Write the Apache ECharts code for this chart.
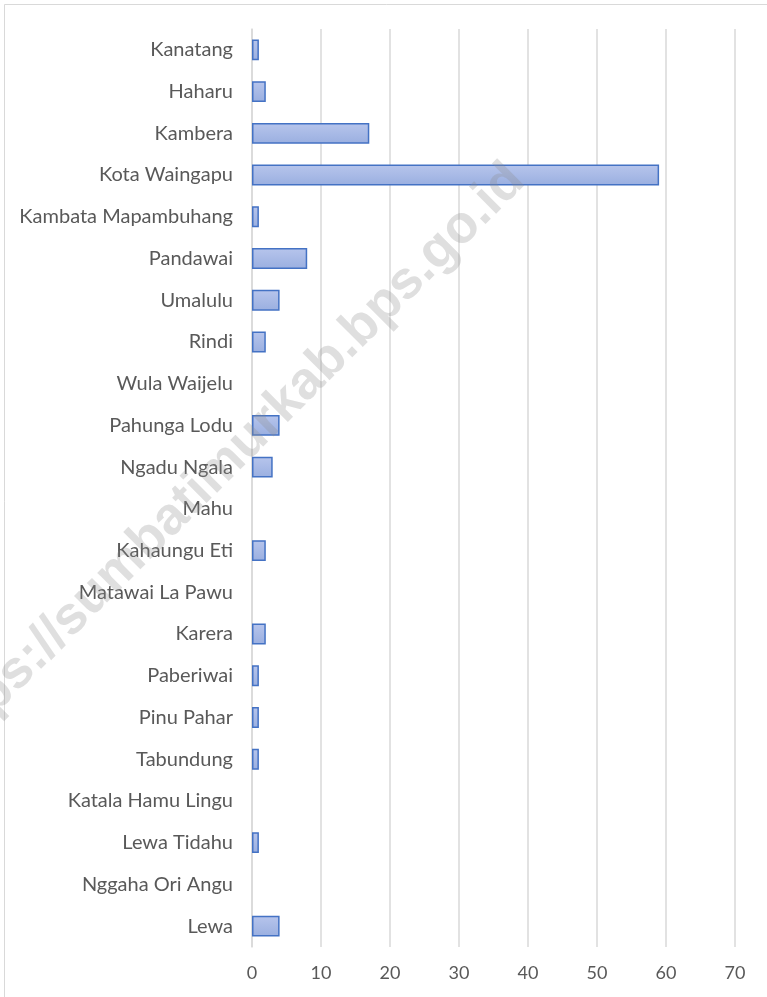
<!DOCTYPE html>
<html>
<head>
<meta charset="utf-8">
<script src="https://cdn.jsdelivr.net/npm/echarts@6/dist/echarts.min.js"></script>
<style>
  html, body { margin: 0; padding: 0; background: #fff; }
  #chart { width: 767px; height: 997px; }
</style>
</head>
<body>
<div id="chart"></div>
<script>
// kecamatan, from bottom to top as drawn
const districts = ['Lewa', 'Nggaha Ori Angu', 'Lewa Tidahu', 'Katala Hamu Lingu', 'Tabundung',
  'Pinu Pahar', 'Paberiwai', 'Karera', 'Matawai La Pawu', 'Kahaungu Eti', 'Mahu',
  'Ngadu Ngala', 'Pahunga Lodu', 'Wula Waijelu', 'Rindi', 'Umalulu', 'Pandawai',
  'Kambata Mapambuhang', 'Kota Waingapu', 'Kambera', 'Haharu', 'Kanatang'];
const counts = [4, 0, 1, 0, 1, 1, 1, 2, 0, 2, 0, 3, 4, 0, 2, 4, 8, 1, 59, 17, 2, 1];
const xTicks = [0, 10, 20, 30, 40, 50, 60, 70];

const chart = echarts.init(document.getElementById('chart'));

// zero bars: no border, so nothing shows (like excel)
const barData = counts.map(v => v === 0 ? { value: v, itemStyle: { borderWidth: 0 } } : v);

const option = {
  backgroundColor: '#fff',
  animation: false,
  grid: { left: 252, right: 32, top: 29, bottom: 50 },
  xAxis: {
    type: 'value',
    min: xTicks[0],
    max: xTicks[xTicks.length - 1],
    interval: 10,
    axisLine: { show: false },
    axisTick: { show: false },
    splitLine: { lineStyle: { color: '#d9d9d9', width: 1.5 } },
    axisLabel: { color: '#595959', fontFamily: 'Lato', fontSize: 18, margin: 17 }
  },
  yAxis: {
    type: 'category',
    data: districts,
    axisLine: { show: true, lineStyle: { color: '#d9d9d9', width: 1.5 } },
    axisTick: { show: false },
    axisLabel: { color: '#595959', fontFamily: 'Lato', fontSize: 20, margin: 19 }
  },
  series: [{
    type: 'bar',
    data: barData,
    barWidth: '50%',
    itemStyle: {
      color: new echarts.graphic.LinearGradient(0, 0, 0, 1, [
        { offset: 0, color: '#b7c5ec' },
        { offset: 1, color: '#9aafe0' }
      ]),
      borderColor: '#4472c4',
      borderWidth: 1.5
    }
  }],
  graphic: [
    {
      type: 'rect',
      shape: { x: 4.5, y: 4.5, width: 800, height: 1000 },
      style: { fill: 'none', stroke: '#d9d9d9', lineWidth: 1 },
      silent: true
    },
    {
      type: 'text',
      x: 226,
      y: 463,
      rotation: Math.PI / 4,
      z: 100,
      silent: true,
      style: {
        text: 'https://sumbatimurkab.bps.go.id',
        font: 'bold 53px "Liberation Sans", sans-serif',
        fill: 'rgba(140,140,140,0.28)',
        align: 'center',
        verticalAlign: 'middle'
      }
    }
  ]
};

chart.setOption(option);
window.addEventListener('resize', () => chart.resize());
</script>
</body>
</html>
